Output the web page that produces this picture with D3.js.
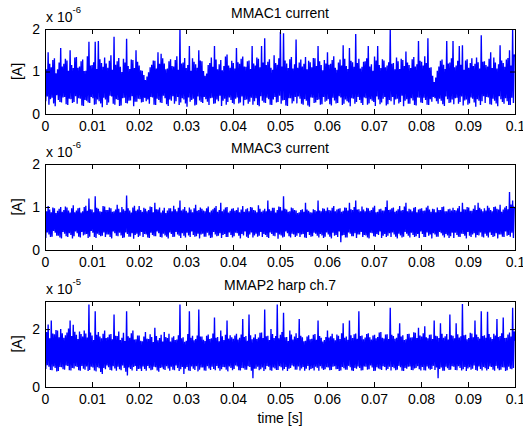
<!DOCTYPE html>
<html>
<head>
<meta charset="utf-8">
<script src="https://cdn.jsdelivr.net/npm/d3@7"></script>
<style>
  body { margin: 0; background: #fff; }
  svg { display: block; }
  text { font-family: "Liberation Sans", Arial, Helvetica, sans-serif; }
</style>
</head>
<body>
<svg id="chart" width="523" height="429"></svg>
<script>
// Panel titles, y-axis multipliers and y ranges (units of 10^exp A)
const titles = ["MMAC1 current", "MMAC3 current", "MMAP2 harp ch.7"];
const exponents = ["-6", "-6", "-5"];
const yMax = [2, 2, 2.97];
const yTickValues = [[0, 1, 2], [0, 1, 2], [0, 2]];
const xTickValues = [0, 0.01, 0.02, 0.03, 0.04, 0.05, 0.06, 0.07, 0.08, 0.09, 0.1];
const tEnd = 0.1;   // record length [s]

// Sampled beam currents, evenly spaced over 0..tEnd
const mmac1 = [
  1.22,0.30,1.05,0.41, 1.45,0.22,1.18,0.35, 1.10,0.38,1.27,0.25, 1.31,0.18,0.96,0.44, 1.05,0.33,1.21,0.28,
  1.55,0.27,1.12,0.39, 1.18,0.40,1.30,0.23, 1.26,0.21,1.02,0.36, 1.50,0.35,1.15,0.26, 1.08,0.28,1.33,0.42,
  1.34,0.24,1.09,0.37, 1.12,0.36,1.24,0.20, 1.28,0.19,1.01,0.33, 1.02,0.31,1.36,0.27, 1.70,0.26,1.14,0.40,
  1.15,0.37,1.22,0.22, 1.70,0.23,1.06,0.34, 1.72,0.30,1.29,0.25, 1.20,0.16,1.11,0.38, 1.33,0.34,1.19,0.21,
  1.09,0.27,1.25,0.43, 1.38,0.41,1.04,0.24, 1.82,0.22,1.16,0.35, 1.24,0.33,1.32,0.19, 1.11,0.20,0.99,0.37,
  1.30,0.38,1.21,0.26, 1.77,0.25,1.13,0.31, 1.06,0.32,1.28,0.42, 1.27,0.18,1.08,0.29, 1.50,0.29,1.23,0.36,
  1.14,0.35,1.03,0.27, 1.02,0.28,0.92,0.38, 0.80,0.30,0.88,0.34, 0.98,0.24,1.10,0.40, 1.16,0.39,1.26,0.22,
  1.25,0.21,1.07,0.36, 1.45,0.33,1.18,0.27, 1.42,0.26,1.31,0.43, 1.19,0.37,1.05,0.23, 1.07,0.19,1.24,0.34,
  1.29,0.31,1.13,0.42, 1.12,0.24,1.27,0.30, 1.36,0.40,1.04,0.21, 2.00,0.27,1.19,0.37, 1.21,0.34,1.32,0.25,
  1.08,0.17,1.15,0.39, 1.60,0.29,1.02,0.33, 1.31,0.36,1.23,0.20, 1.17,0.22,1.09,0.41, 1.50,0.32,1.26,0.28,
  1.24,0.26,1.01,0.40, 0.90,0.35,0.95,0.29, 1.15,0.21,1.20,0.37, 1.33,0.38,1.11,0.24, 1.60,0.25,1.28,0.34,
  1.05,0.30,1.17,0.43, 1.27,0.19,1.03,0.31, 1.13,0.36,1.35,0.22, 1.40,0.28,1.14,0.39, 1.09,0.33,1.25,0.26,
  1.20,0.23,1.07,0.36, 1.55,0.39,1.22,0.25, 1.18,0.27,1.30,0.41, 1.35,0.20,1.12,0.33, 1.11,0.34,1.24,0.24,
  1.26,0.29,1.06,0.38, 1.60,0.22,1.19,0.30, 1.14,0.37,1.33,0.21, 1.30,0.18,1.10,0.42, 1.60,0.31,1.21,0.27,
  1.78,0.26,1.15,0.38, 1.23,0.35,1.29,0.22, 1.09,0.21,1.04,0.34, 1.38,0.40,1.20,0.27, 1.16,0.28,1.31,0.43,
  1.93,0.24,1.12,0.32, 1.90,0.33,1.26,0.20, 1.19,0.19,1.08,0.37, 1.29,0.37,1.34,0.25, 1.07,0.30,1.17,0.40,
  1.75,0.25,1.09,0.41, 1.21,0.36,1.28,0.24, 1.12,0.22,1.18,0.35, 1.34,0.31,1.05,0.20, 1.25,0.17,1.22,0.39,
  1.10,0.38,1.32,0.26, 1.31,0.27,1.13,0.33, 1.60,0.34,1.24,0.22, 1.15,0.23,1.03,0.40, 1.27,0.29,1.19,0.31,
  1.45,0.35,1.16,0.23, 1.18,0.20,1.27,0.38, 1.36,0.32,1.09,0.25, 1.04,0.26,1.21,0.42, 1.28,0.39,1.14,0.21,
  1.62,0.24,1.30,0.34, 1.13,0.30,1.06,0.27, 1.55,0.18,1.25,0.37, 1.22,0.36,1.11,0.24, 1.88,0.28,1.20,0.40,
  1.30,0.33,1.07,0.26, 1.11,0.21,1.23,0.39, 1.24,0.37,1.31,0.22, 1.60,0.25,1.12,0.35, 1.17,0.31,1.02,0.28,
  1.35,0.19,1.26,0.41, 1.60,0.34,1.15,0.23, 1.08,0.27,1.29,0.36, 1.26,0.40,1.10,0.20, 1.14,0.23,1.22,0.33,
  2.00,0.30,1.18,0.40, 1.20,0.22,1.05,0.34, 1.33,0.36,1.24,0.25, 1.06,0.28,1.30,0.43, 1.27,0.18,1.13,0.31,
  1.47,0.35,1.21,0.24, 1.15,0.24,1.08,0.37, 1.29,0.32,1.34,0.21, 1.12,0.20,1.17,0.39, 1.72,0.38,1.25,0.27,
  1.23,0.26,1.14,0.38, 1.36,0.33,1.20,0.22, 1.78,0.21,1.09,0.35, 1.10,0.29,0.90,0.40, 0.75,0.37,0.86,0.30,
  1.02,0.24,1.12,0.36, 1.25,0.31,1.28,0.23, 1.16,0.19,1.06,0.41, 1.72,0.35,1.19,0.26, 1.21,0.27,1.31,0.34,
  1.72,0.23,1.10,0.37, 1.14,0.38,1.25,0.24, 1.60,0.28,1.16,0.41, 1.62,0.20,1.04,0.32, 1.26,0.34,1.29,0.22,
  1.09,0.25,1.20,0.39, 1.31,0.36,1.13,0.27, 1.18,0.17,1.33,0.35, 1.22,0.31,1.07,0.21, 1.85,0.30,1.23,0.42,
  1.24,0.26,1.15,0.40, 1.12,0.39,1.30,0.23, 1.45,0.22,1.08,0.36, 1.33,0.31,1.21,0.25, 1.07,0.18,1.17,0.42,
  1.62,0.35,1.26,0.28, 1.20,0.24,1.11,0.37, 1.28,0.30,1.32,0.21, 1.50,0.21,1.14,0.38, 2.00,0.26,1.40,1.35
];
const mmac3 = [
  0.95,0.28,0.90,0.41, 1.02,0.36,0.94,0.30, 0.88,0.31,0.99,0.44, 0.97,0.40,0.86,0.33, 0.91,0.33,0.96,0.29,
  1.00,0.27,0.89,0.42, 0.93,0.38,1.01,0.32, 0.99,0.30,0.92,0.39, 0.87,0.35,0.97,0.27, 1.04,0.32,0.88,0.43,
  0.92,0.39,0.97,0.31, 0.98,0.29,0.87,0.42, 0.90,0.34,1.00,0.36, 1.03,0.37,0.91,0.28, 1.20,0.31,0.95,0.44,
  0.94,0.40,0.88,0.30, 1.25,0.28,0.98,0.38, 0.96,0.35,0.90,0.32, 0.89,0.33,1.02,0.41, 1.01,0.30,0.93,0.36,
  0.93,0.36,0.99,0.30, 0.97,0.27,0.89,0.43, 0.90,0.39,0.94,0.33, 1.05,0.32,0.96,0.40, 0.88,0.34,1.00,0.28,
  0.95,0.29,0.91,0.41, 1.27,0.37,0.97,0.31, 0.92,0.31,0.87,0.39, 0.99,0.26,1.03,0.35, 0.91,0.38,0.94,0.30,
  1.02,0.33,0.93,0.42, 0.89,0.30,0.98,0.37, 0.96,0.36,0.90,0.29, 0.93,0.28,1.01,0.40, 1.00,0.35,0.88,0.32,
  1.10,0.32,0.95,0.43, 0.94,0.39,0.99,0.30, 0.87,0.29,0.92,0.38, 0.98,0.34,0.86,0.31, 0.92,0.27,0.97,0.41,
  0.97,0.37,0.90,0.30, 1.03,0.31,0.95,0.42, 0.90,0.36,0.98,0.33, 1.15,0.28,0.92,0.39, 0.95,0.33,1.00,0.29,
  0.91,0.40,0.87,0.34, 0.99,0.30,0.94,0.43, 0.88,0.35,0.97,0.31, 1.05,0.32,0.91,0.38, 0.93,0.27,0.99,0.36,
  0.96,0.38,0.92,0.31, 0.90,0.31,0.97,0.40, 1.01,0.34,0.88,0.28, 0.92,0.29,0.95,0.42, 0.98,0.36,1.02,0.32,
  0.89,0.33,0.93,0.39, 1.10,0.28,0.90,0.35, 0.94,0.37,0.99,0.30, 1.00,0.30,0.87,0.41, 0.91,0.35,0.96,0.29,
  0.97,0.32,0.91,0.40, 0.93,0.39,0.99,0.33, 0.88,0.27,0.94,0.37, 1.02,0.34,0.89,0.43, 0.95,0.31,0.97,0.28,
  0.90,0.36,1.00,0.41, 0.99,0.29,0.93,0.34, 0.92,0.38,0.88,0.31, 1.04,0.33,0.96,0.42, 0.89,0.30,0.92,0.37,
  0.96,0.35,0.90,0.30, 1.15,0.28,0.95,0.41, 0.91,0.37,0.98,0.33, 0.98,0.32,0.87,0.40, 0.93,0.26,1.01,0.36,
  1.00,0.34,0.92,0.29, 1.25,0.31,0.96,0.43, 0.94,0.39,0.89,0.32, 0.90,0.29,0.99,0.38, 0.97,0.36,0.93,0.30,
  0.92,0.33,0.86,0.39, 0.88,0.30,0.93,0.36, 0.95,0.37,0.89,0.29, 1.10,0.28,0.94,0.42, 0.91,0.35,0.88,0.31,
  0.87,0.32,0.95,0.40, 0.93,0.38,0.90,0.33, 1.15,0.29,0.92,0.37, 0.90,0.34,0.97,0.28, 0.96,0.31,0.91,0.41,
  0.99,0.36,0.93,0.31, 0.92,0.27,0.98,0.40, 1.02,0.33,0.90,0.35, 0.94,0.30,0.96,0.43, 0.97,0.18,0.89,0.34,
  0.91,0.35,0.99,0.29, 0.98,0.29,0.92,0.41, 1.10,0.38,0.95,0.32, 0.93,0.32,1.00,0.39, 1.15,0.28,0.94,0.36,
  0.95,0.36,0.90,0.42, 1.01,0.30,0.94,0.35, 0.90,0.34,0.98,0.29, 0.97,0.27,0.91,0.40, 0.93,0.39,0.99,0.32,
  1.03,0.31,0.88,0.37, 0.89,0.35,0.95,0.43, 0.96,0.28,0.92,0.33, 0.92,0.37,1.00,0.30, 1.15,0.33,0.93,0.39,
  0.94,0.30,0.97,0.41, 0.99,0.36,0.89,0.31, 0.91,0.27,0.95,0.38, 1.02,0.34,0.92,0.29, 0.93,0.31,1.01,0.42,
  1.10,0.38,0.90,0.33, 0.96,0.29,0.94,0.40, 0.90,0.35,0.98,0.30, 1.00,0.32,0.88,0.37, 0.94,0.28,0.96,0.43,
  0.97,0.37,0.91,0.30, 0.92,0.30,0.99,0.41, 1.03,0.33,0.94,0.36, 0.89,0.27,0.96,0.39, 0.95,0.36,0.88,0.31,
  0.99,0.31,0.93,0.42, 0.93,0.39,1.00,0.34, 1.01,0.29,0.90,0.37, 0.90,0.34,0.95,0.28, 0.96,0.32,0.92,0.40,
  0.98,0.28,0.93,0.40, 0.92,0.35,0.97,0.31, 1.02,0.30,0.89,0.38, 1.10,0.37,0.95,0.33, 0.94,0.27,1.00,0.42,
  0.99,0.33,0.91,0.30, 0.91,0.36,0.96,0.39, 1.04,0.29,0.93,0.35, 1.10,0.34,0.98,0.41, 0.95,0.31,0.90,0.29,
  0.97,0.38,0.92,0.33, 1.03,0.29,0.98,0.41, 0.93,0.35,0.90,0.30, 1.00,0.32,1.01,0.39, 0.96,0.27,0.94,0.36,
  1.05,0.36,0.89,0.31, 0.94,0.30,0.99,0.43, 1.02,0.33,0.95,0.35, 1.35,0.31,1.06,0.40, 1.15,0.28,0.98,0.95
];
const mmap2 = [
  1.75,0.62,1.90,0.75, 2.16,0.70,1.68,0.59, 2.30,0.58,1.85,0.71, 1.82,0.66,1.97,0.54, 1.95,0.55,1.72,0.69,
  2.00,0.68,1.86,0.61, 1.70,0.60,1.79,0.74, 1.88,0.73,2.02,0.58, 2.30,0.57,1.76,0.66, 2.15,0.64,1.91,0.72,
  1.80,0.69,1.66,0.58, 1.92,0.56,1.83,0.73, 1.74,0.63,1.95,0.60, 1.85,0.71,1.71,0.55, 2.85,0.59,1.88,0.70,
  1.78,0.67,1.62,0.57, 2.62,0.54,1.80,0.68, 1.90,0.65,1.74,0.52, 1.68,0.45,1.84,0.66, 1.95,0.61,1.69,0.74,
  1.72,0.68,1.81,0.59, 1.83,0.57,1.65,0.72, 2.50,0.64,1.77,0.56, 1.76,0.70,1.92,0.61, 1.62,0.58,1.70,0.74,
  1.87,0.66,1.59,0.53, 2.62,0.40,1.75,0.67, 1.70,0.62,1.86,0.57, 1.95,0.69,1.64,0.73, 1.65,0.55,1.78,0.62,
  1.78,0.63,1.60,0.55, 1.58,0.71,1.74,0.62, 1.90,0.56,1.67,0.73, 1.66,0.65,1.82,0.58, 1.73,0.60,1.55,0.70,
  2.05,0.68,1.76,0.57, 1.61,0.53,1.69,0.66, 1.80,0.67,1.57,0.61, 1.90,0.59,1.73,0.72, 1.69,0.64,1.84,0.56,
  1.57,0.70,1.71,0.60, 1.75,0.58,1.62,0.74, 1.64,0.66,1.79,0.55, 2.85,0.61,1.68,0.69, 1.72,0.45,1.56,0.63,
  1.60,0.69,1.83,0.57, 2.62,0.55,1.70,0.71, 1.77,0.63,1.61,0.59, 1.66,0.72,1.78,0.54, 2.68,0.60,1.74,0.67,
  1.74,0.67,1.63,0.57, 1.59,0.56,1.77,0.72, 1.81,0.64,1.66,0.59, 1.68,0.70,1.85,0.62, 2.40,0.58,1.70,0.73,
  1.73,0.65,1.58,0.56, 1.95,0.61,1.75,0.69, 1.62,0.68,1.80,0.60, 2.30,0.54,1.67,0.71, 1.79,0.66,1.72,0.58,
  1.67,0.62,1.78,0.74, 1.84,0.71,1.64,0.58, 1.70,0.57,1.81,0.66, 2.35,0.65,1.73,0.60, 1.76,0.60,1.60,0.72,
  2.50,0.69,1.79,0.56, 1.65,0.30,1.71,0.63, 1.82,0.63,1.66,0.70, 1.71,0.58,1.87,0.61, 1.88,0.67,1.69,0.55,
  2.68,0.61,1.75,0.73, 1.77,0.70,1.62,0.58, 2.00,0.56,1.83,0.67, 1.69,0.64,1.76,0.59, 2.85,0.59,1.68,0.72,
  1.80,0.68,1.90,0.57, 2.56,0.62,1.72,0.69, 1.73,0.55,1.59,0.63, 1.95,0.66,1.81,0.74, 1.64,0.71,1.74,0.60,
  1.86,0.60,1.69,0.71, 2.35,0.57,1.77,0.64, 1.72,0.69,1.58,0.56, 1.60,0.63,1.74,0.73, 1.79,0.58,1.65,0.62,
  1.67,0.65,1.80,0.57, 1.83,0.70,1.63,0.66, 2.30,0.56,1.76,0.72, 1.70,0.64,1.57,0.59, 1.62,0.61,1.73,0.68,
  1.95,0.67,1.71,0.58, 1.75,0.59,1.84,0.70, 1.68,0.72,1.61,0.61, 1.81,0.62,1.77,0.55, 1.66,0.57,1.86,0.69,
  2.20,0.65,1.70,0.60, 1.74,0.60,1.63,0.73, 2.30,0.68,1.79,0.57, 1.69,0.55,1.82,0.66, 1.85,0.63,1.67,0.71,
  2.62,0.66,1.76,0.57, 1.78,0.58,1.65,0.71, 1.71,0.70,1.83,0.60, 1.86,0.61,1.72,0.74, 1.64,0.67,1.78,0.55,
  1.80,0.56,1.68,0.68, 1.73,0.64,1.88,0.61, 1.90,0.59,1.70,0.72, 1.67,0.69,1.81,0.58, 1.82,0.62,1.66,0.70,
  2.74,0.57,1.80,0.69, 1.76,0.65,1.67,0.58, 1.70,0.60,1.85,0.73, 2.20,0.68,1.74,0.56, 1.79,0.55,1.62,0.66,
  1.65,0.63,1.83,0.70, 1.84,0.71,1.71,0.59, 1.72,0.58,1.89,0.64, 1.87,0.66,1.69,0.72, 2.05,0.61,1.78,0.57,
  1.74,0.69,1.86,0.58, 2.10,0.57,1.72,0.71, 1.68,0.64,1.80,0.60, 1.81,0.62,1.66,0.73, 2.30,0.59,1.77,0.67,
  1.75,0.30,1.69,0.62, 2.20,0.67,1.84,0.56, 1.70,0.56,1.75,0.70, 1.83,0.65,1.64,0.59, 2.50,0.60,1.79,0.72,
  1.77,0.70,1.68,0.59, 2.20,0.58,1.82,0.72, 1.71,0.66,1.75,0.57, 2.87,0.61,1.79,0.69, 1.80,0.55,1.65,0.64,
  1.69,0.68,1.87,0.60, 1.85,0.63,1.72,0.74, 2.30,0.59,1.81,0.56, 1.73,0.71,1.67,0.62, 2.62,0.57,1.76,0.69,
  1.79,0.65,1.70,0.57, 2.60,0.62,1.83,0.71, 1.72,0.69,1.66,0.60, 1.84,0.56,1.78,0.73, 2.35,0.64,1.73,0.58,
  1.76,0.60,1.86,0.68, 2.40,0.67,1.69,0.55, 1.70,0.58,1.81,0.70, 1.88,0.63,1.74,0.61, 2.74,0.66,1.92,1.60
];
const series = [mmac1, mmac3, mmap2];

const W = 523, H = 429;
const left = 45, right = 515;
const panelBands = [[29, 114], [164, 250], [301, 387]];
const FONT = 14;

const svg = d3.select("#chart");
svg.append("rect").attr("width", W).attr("height", H).attr("fill", "#fff");
const defs = svg.append("defs");

const x = d3.scaleLinear().domain([0, tEnd]).range([left, right]);
const fmtX = d => d === 0 ? "0" : String(+d.toFixed(2));

function styleAxis(g) {
  g.attr("font-size", FONT).attr("font-family", null);
  g.select(".domain").remove();
  g.selectAll(".tick line").attr("stroke", "#000");
  g.selectAll(".tick text").attr("fill", "#000");
}

series.forEach((vals, k) => {
  const [top, bottom] = panelBands[k];
  const y = d3.scaleLinear().domain([0, yMax[k]]).range([bottom, top]);
  const n = vals.length;

  const clipId = "plotclip" + k;
  defs.append("clipPath").attr("id", clipId)
    .append("rect").attr("x", left).attr("y", top)
    .attr("width", right - left).attr("height", bottom - top);

  // signal trace
  const line = d3.line()
    .x((d, i) => x(i * tEnd / (n - 1)))
    .y(d => y(d));
  svg.append("path")
    .datum(vals)
    .attr("d", line)
    .attr("fill", "none")
    .attr("stroke", "#0000ff")
    .attr("stroke-width", 1.35)
    .attr("clip-path", `url(#${clipId})`);

  // axes with inward ticks on all four sides
  svg.append("g").attr("transform", `translate(0,${bottom})`)
    .call(d3.axisBottom(x).tickValues(xTickValues).tickSize(-5).tickPadding(7).tickFormat(fmtX))
    .call(styleAxis);
  svg.append("g").attr("transform", `translate(0,${top})`)
    .call(d3.axisTop(x).tickValues(xTickValues).tickSize(-5).tickFormat(""))
    .call(styleAxis);
  svg.append("g").attr("transform", `translate(${left},0)`)
    .call(d3.axisLeft(y).tickValues(yTickValues[k]).tickSize(-5).tickPadding(5).tickFormat(d3.format("d")))
    .call(styleAxis);
  svg.append("g").attr("transform", `translate(${right},0)`)
    .call(d3.axisRight(y).tickValues(yTickValues[k]).tickSize(-5).tickFormat(""))
    .call(styleAxis);

  // axes box
  svg.append("rect")
    .attr("x", left + 0.5).attr("y", top + 0.5)
    .attr("width", right - left).attr("height", bottom - top)
    .attr("fill", "none").attr("stroke", "#000").attr("stroke-width", 1);

  // title
  svg.append("text")
    .attr("x", (left + right) / 2).attr("y", top - 11)
    .attr("text-anchor", "middle").attr("font-size", FONT)
    .text(titles[k]);

  // multiplier  x 10^exp
  const mult = svg.append("text")
    .attr("x", left + 1).attr("y", top - 7)
    .attr("font-size", FONT);
  mult.append("tspan").text("x 10");
  mult.append("tspan").attr("dy", -9.5).attr("font-size", 9.5).text(exponents[k]);

  // y label
  svg.append("text")
    .attr("transform", `translate(22,${(top + bottom) / 2}) rotate(-90)`)
    .attr("text-anchor", "middle").attr("font-size", FONT)
    .text("[A]");
});

// x label
svg.append("text")
  .attr("x", (left + right) / 2).attr("y", 423)
  .attr("text-anchor", "middle").attr("font-size", FONT)
  .text("time [s]");
</script>
</body>
</html>
